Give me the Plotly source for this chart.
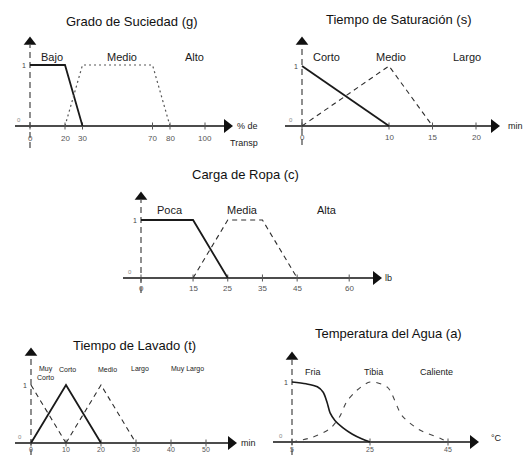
import plotly.graph_objects as go

W, H = 526, 455
FONT = "Liberation Sans, Arial, sans-serif"

# ---------------- data ----------------
# Grado de Suciedad (g)
g_ticks = [0, 20, 30, 70, 80, 100]
g_tick_labels = ["0", "20", "30", "70", "80", "100"]
g_bajo_x, g_bajo_y = [0, 20, 30], [1, 1, 0]
g_medio_x, g_medio_y = [20, 30, 70, 80], [0, 1, 1, 0]
g_labels = ["Bajo", "Medio", "Alto"]

# Tiempo de Saturación (s)
s_ticks = [0, 10, 15, 20]
s_tick_labels = ["0", "10", "15", "20"]
s_corto_x, s_corto_y = [0, 10], [1, 0]
s_medio_x, s_medio_y = [0, 10, 15], [0, 1, 0]
s_labels = ["Corto", "Medio", "Largo"]

# Carga de Ropa (c)
c_ticks = [0, 15, 25, 35, 45, 60]
c_tick_labels = ["0", "15", "25", "35", "45", "60"]
c_poca_x, c_poca_y = [0, 15, 25], [1, 1, 0]
c_media_x, c_media_y = [15, 25, 35, 45], [0, 1, 1, 0]
c_labels = ["Poca", "Media", "Alta"]

# Tiempo de Lavado (t)
t_ticks = [0, 10, 20, 30, 40, 50]
t_tick_labels = ["0", "10", "20", "30", "40", "50"]
t_muycorto_x, t_muycorto_y = [0, 10], [1, 0]
t_corto_x, t_corto_y = [0, 10, 20], [0, 1, 0]
t_medio_x, t_medio_y = [10, 20, 30], [0, 1, 0]
t_labels = ["Muy<br>Corto", "Corto", "Medio", "Largo", "Muy Largo"]

# Temperatura del Agua (a)
a_ticks = [5, 25, 45]
a_tick_labels = ["5", "25", "45"]
a_fria_x = [5, 8.6, 11.5, 13.0, 14.0, 14.8, 16.0, 18.0, 20.5, 23.0, 25.0]
a_fria_y = [1.0, 0.97, 0.92, 0.83, 0.66, 0.48, 0.36, 0.24, 0.13, 0.05, 0.0]
a_tibia_x = [5, 10.3, 14.7, 17.2, 19.0, 21.6, 25.0, 29.5, 33.2, 37.5, 43.1, 45.0]
a_tibia_y = [0.0, 0.08, 0.22, 0.42, 0.67, 0.86, 1.0, 0.91, 0.44, 0.21, 0.06, 0.0]
a_labels = ["Fria", "Tibia", "Caliente"]

# ---------------- layout constants (pixels) ----------------
panels = [
    dict(title="Grado de Suciedad (g)", tpos=(132, 21), x0=0, ox=30, oy=126, sx=1.75, sy=61,
         box=(0, 262, 28, 160), xstart=15, xtip=232, ybot=148, ytop=36,
         tick_shift=-12, tick_anchor="middle", tick_size=8,
         ticks=g_ticks, tlabels=g_tick_labels,
         series=[(g_bajo_x, g_bajo_y, "solid"), (g_medio_x, g_medio_y, "dot")],
         labels=g_labels, lpos=[(52, 57), (122, 57), (194, 57)], lsize=11,
         units=[("% de", 247, 126), ("Transp", 244, 143)]),
    dict(title="Tiempo de Saturación (s)", tpos=(398, 20), x0=0, ox=302, oy=126, sx=8.7, sy=60,
         box=(263, 526, 28, 160), xstart=285, xtip=499, ybot=145, ytop=36,
         tick_shift=-11, tick_anchor="middle", tick_size=8,
         ticks=s_ticks, tlabels=s_tick_labels,
         series=[(s_corto_x, s_corto_y, "solid"), (s_medio_x, s_medio_y, "dash")],
         labels=s_labels, lpos=[(326, 57), (391, 57), (467, 57)], lsize=11,
         units=[("min", 515, 126)]),
    dict(title="Carga de Ropa (c)", tpos=(245, 175), x0=0, ox=141, oy=278, sx=3.47, sy=58,
         box=(100, 420, 185, 300), xstart=123, xtip=381, ybot=293, ytop=191,
         tick_shift=-10, tick_anchor="middle", tick_size=8,
         ticks=c_ticks, tlabels=c_tick_labels,
         series=[(c_poca_x, c_poca_y, "solid"), (c_media_x, c_media_y, "dash")],
         labels=c_labels, lpos=[(170, 210), (242, 210), (327, 210)], lsize=11,
         units=[("lb", 388, 278)]),
    dict(title="Tiempo de Lavado (t)", tpos=(134, 345), x0=0, ox=31, oy=443, sx=3.5, sy=58,
         box=(0, 262, 338, 455), xstart=15, xtip=236, ybot=455, ytop=347,
         tick_shift=-11, tick_anchor="bottom", tick_size=7,
         ticks=t_ticks, tlabels=t_tick_labels,
         series=[(t_muycorto_x, t_muycorto_y, "dash"), (t_corto_x, t_corto_y, "solid"),
                 (t_medio_x, t_medio_y, "dash")],
         labels=t_labels, lpos=[(45, 373), (67, 369), (107, 369), (140, 369), (187, 369)], lsize=7,
         units=[("min", 248, 443)]),
    dict(title="Temperatura del Agua (a)", tpos=(388, 333), x0=5, ox=292, oy=442, sx=3.9, sy=60,
         box=(263, 526, 338, 455), xstart=273, xtip=478, ybot=455, ytop=351,
         tick_shift=-12, tick_anchor="bottom", tick_size=7,
         ticks=a_ticks, tlabels=a_tick_labels,
         series=[(a_fria_x, a_fria_y, "curve"), (a_tibia_x, a_tibia_y, "curvedash")],
         labels=a_labels, lpos=[(313, 372), (373, 372), (436, 372)], lsize=9,
         units=[("°C", 496, 438)]),
]

STYLES = {
    "solid": dict(color="#1a1a1a", width=1.8),
    "dash": dict(color="#2e2e2e", width=1.1, dash="5px,4px"),
    "dot": dict(color="#555555", width=1.2, dash="2px,3px"),
    "curve": dict(color="#1a1a1a", width=1.6, shape="spline", smoothing=0.8),
    "curvedash": dict(color="#444444", width=1.1, dash="5px,6px", shape="spline", smoothing=0.8),
}


def px_x(p, px):
    return p["x0"] + (px - p["ox"]) / p["sx"]


def py_y(p, py):
    return (p["oy"] - py) / p["sy"]


fig = go.Figure()
layout = dict(width=W, height=H, margin=dict(l=0, r=0, t=0, b=0),
              paper_bgcolor="white", plot_bgcolor="rgba(0,0,0,0)", showlegend=False)
annotations = []

for i, p in enumerate(panels):
    n = "" if i == 0 else str(i + 1)
    xa, ya = "x" + n, "y" + n
    b = p["box"]
    layout["xaxis" + n] = dict(domain=[b[0] / W, b[1] / W], range=[px_x(p, b[0]), px_x(p, b[1])],
                               visible=False, fixedrange=True)
    layout["yaxis" + n] = dict(domain=[1 - b[3] / H, 1 - b[2] / H], range=[py_y(p, b[3]), py_y(p, b[2])],
                               visible=False, fixedrange=True)

    # x axis line + arrow
    fig.add_trace(go.Scatter(x=[px_x(p, p["xstart"]), px_x(p, p["xtip"] - 8)], y=[0, 0], mode="lines",
                             line=dict(color="#111", width=1.4), xaxis=xa, yaxis=ya, hoverinfo="skip"))
    fig.add_trace(go.Scatter(x=[px_x(p, p["xtip"] - 5)], y=[0], mode="markers",
                             marker=dict(symbol="triangle-right", size=12, color="#111"),
                             cliponaxis=False, xaxis=xa, yaxis=ya, hoverinfo="skip"))
    # y axis (dashed) + arrow
    fig.add_trace(go.Scatter(x=[p["x0"], p["x0"]], y=[py_y(p, p["ybot"]), py_y(p, p["ytop"] + 9)],
                             mode="lines", line=dict(color="#333", width=1.1, dash="6px,4px"),
                             xaxis=xa, yaxis=ya, hoverinfo="skip"))
    fig.add_trace(go.Scatter(x=[p["x0"]], y=[py_y(p, p["ytop"] + 6)], mode="markers",
                             marker=dict(symbol="triangle-up", size=11, color="#111"),
                             cliponaxis=False, xaxis=xa, yaxis=ya, hoverinfo="skip"))
    # tick marks
    fig.add_trace(go.Scatter(x=p["ticks"], y=[0] * len(p["ticks"]), mode="markers",
                             marker=dict(symbol="line-ns", size=5, line=dict(color="#555", width=1)),
                             xaxis=xa, yaxis=ya, hoverinfo="skip"))
    # membership functions
    for xs, ys, st in p["series"]:
        fig.add_trace(go.Scatter(x=xs, y=ys, mode="lines", line=STYLES[st],
                                 xaxis=xa, yaxis=ya, hoverinfo="skip"))

    # tick labels
    for tv, tl in zip(p["ticks"], p["tlabels"]):
        annotations.append(dict(x=tv, y=0, xref=xa, yref=ya, text=tl, showarrow=False,
                                yshift=p["tick_shift"], borderpad=0,
                                font=dict(family=FONT, size=p["tick_size"], color="#555"),
                                xanchor="center", yanchor=p["tick_anchor"]))
    # "1" and "0" on y axis
    annotations.append(dict(x=p["x0"], y=1, xref=xa, yref=ya, text="1", showarrow=False,
                            xshift=-6, font=dict(family=FONT, size=7, color="#444"),
                            xanchor="center", yanchor="middle"))
    annotations.append(dict(x=p["x0"], y=0, xref=xa, yref=ya, text="0", showarrow=False,
                            xshift=-11, yshift=6, font=dict(family=FONT, size=6, color="#888"),
                            xanchor="center", yanchor="middle"))

    # title
    annotations.append(dict(x=p["tpos"][0] / W, y=1 - p["tpos"][1] / H, xref="paper", yref="paper",
                            text=p["title"], showarrow=False, xanchor="center", yanchor="middle",
                            font=dict(family=FONT, size=13, color="#111")))
    # set labels
    for txt, (lx, ly) in zip(p["labels"], p["lpos"]):
        annotations.append(dict(x=lx / W, y=1 - ly / H, xref="paper", yref="paper", text=txt,
                                showarrow=False, xanchor="center", yanchor="middle",
                                font=dict(family=FONT, size=p["lsize"], color="#1a1a1a")))
    # units
    for txt, ux, uy in p["units"]:
        annotations.append(dict(x=ux / W, y=1 - uy / H, xref="paper", yref="paper", text=txt,
                                showarrow=False, xanchor="center", yanchor="middle",
                                font=dict(family=FONT, size=9, color="#1a1a1a")))

layout["annotations"] = annotations
fig.update_layout(**layout)
fig.write_html("out.html", config={"displayModeBar": False, "staticPlot": True},
               post_script="document.body.style.margin='0';document.body.style.overflow='hidden';")
